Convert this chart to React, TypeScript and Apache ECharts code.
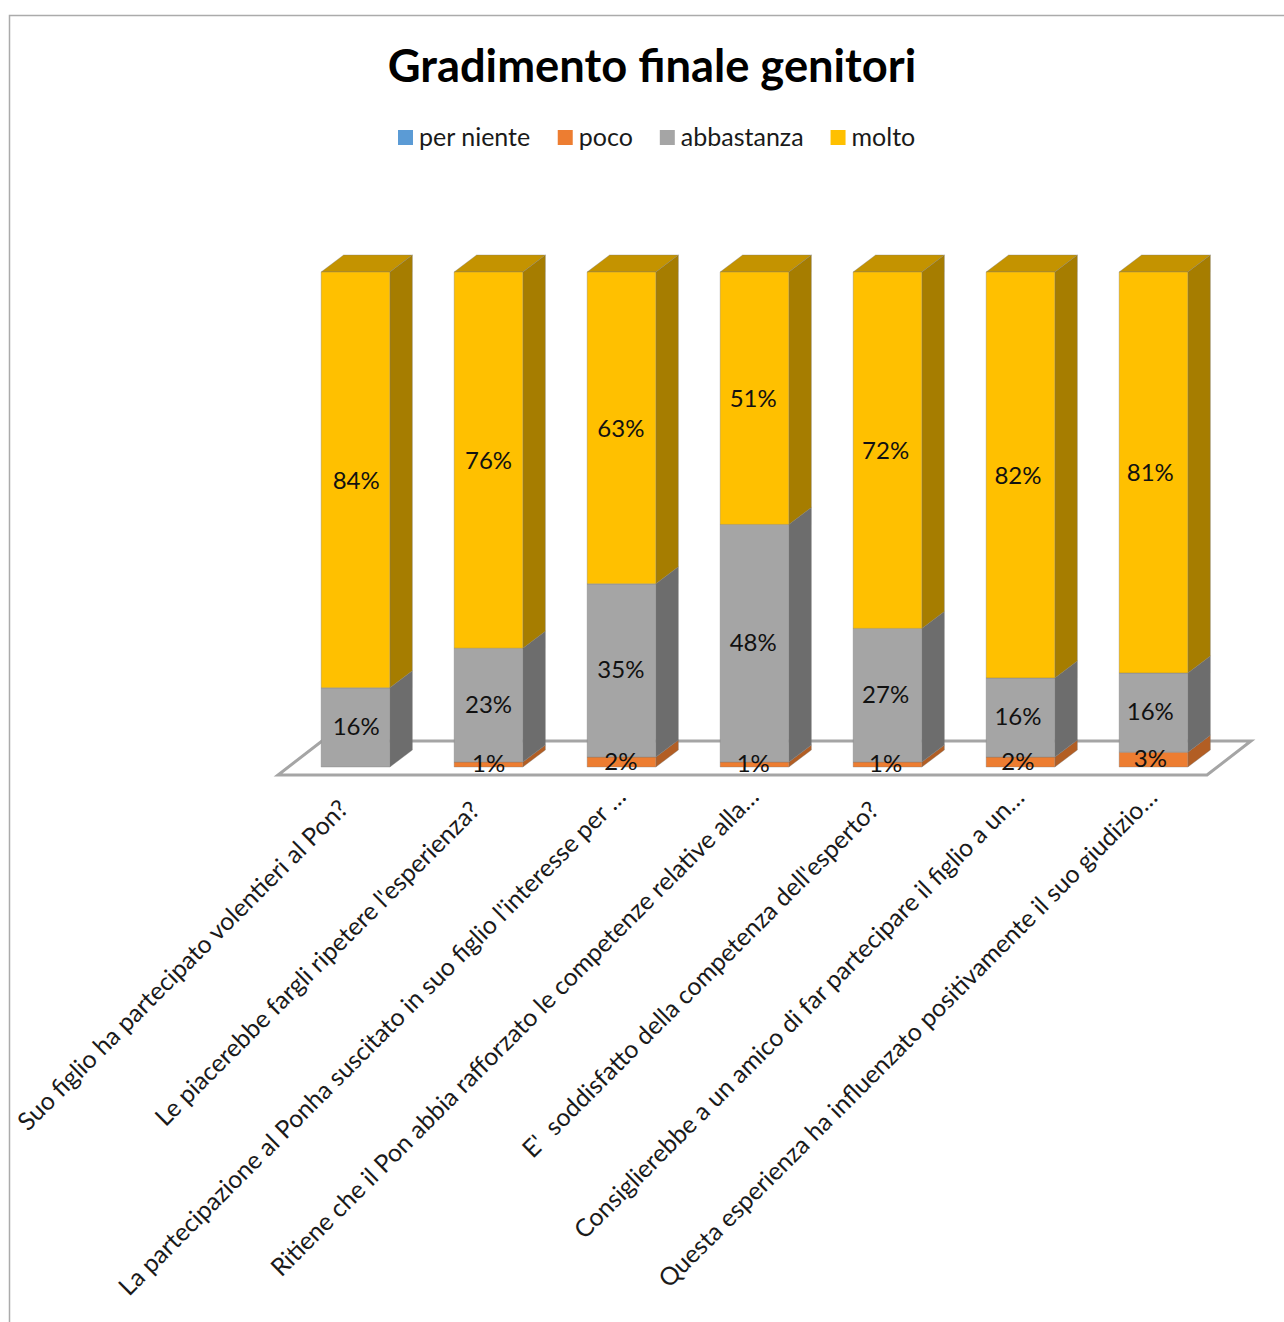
import React, { useEffect, useRef } from "react";
import * as echarts from "echarts";

const categories = [
  "Suo figlio ha partecipato volentieri al Pon?",
  "Le piacerebbe fargli ripetere l'esperienza?",
  "La partecipazione al Ponha suscitato in suo figlio l'interesse per …",
  "Ritiene che il Pon abbia rafforzato le competenze relative alla…",
  "E'  soddisfatto della competenza dell'esperto?",
  "Consiglierebbe a un amico di far partecipare il figlio a un…",
  "Questa esperienza ha influenzato positivamente il suo giudizio…",
];
const perNiente = [0, 0, 0, 0, 0, 0, 0];
const poco = [0, 1, 2, 1, 1, 2, 3];
const abbastanza = [16, 23, 35, 48, 27, 16, 16];
const molto = [84, 76, 63, 51, 72, 82, 81];

const seriesDefs = [
  { name: "per niente", values: perNiente, front: "#5B9BD5", side: "#3F74A6", top: "#4A86BE", labelLift: 2 },
  { name: "poco", values: poco, front: "#ED7D31", side: "#B25E24", top: "#C96A2A", labelLift: 2 },
  { name: "abbastanza", values: abbastanza, front: "#A5A5A5", side: "#6D6D6D", top: "#8C8C8C", labelLift: 2 },
  { name: "molto", values: molto, front: "#FFC000", side: "#A67D00", top: "#C49300", labelLift: 0.5 },
];

const labelEndPads = [18, 20, 1, 1, 20, 2, 2];

const FONT = "Lato, 'Open Sans', sans-serif";
const DX = 22.5;
const DY = -17;
const EDGE = "rgba(120,120,120,0.35)";

export default function App() {
  const ref = useRef<HTMLDivElement>(null);
  useEffect(() => {
    const chart = echarts.init(ref.current!, undefined, { renderer: "svg" });
    const base = categories.map(() => 0);
    const stacked = seriesDefs.map((def, si) => {
      const data = def.values.map((v, i) => {
        const start = base[i];
        base[i] += v;
        return [i, start, base[i], v];
      });
      return {
        type: "custom",
        name: def.name,
        itemStyle: { color: def.front },
        data,
        encode: { x: 0, y: 2 },
        clip: false,
        renderItem: (_p: any, api: any) => {
          const v = api.value(3);
          if (!v) return null;
          const idx = api.value(0);
          const b = api.coord([idx, api.value(1)]);
          const t = api.coord([idx, api.value(2)]);
          const w = api.size([1, 0])[0] * 0.5165;
          const x = b[0] - w / 2;
          const children: any[] = [
            {
              type: "polygon",
              shape: { points: [[x + w, t[1]], [x + w + DX, t[1] + DY], [x + w + DX, b[1] + DY], [x + w, b[1]]] },
              style: { fill: def.side, stroke: EDGE, lineWidth: 1 },
            },
          ];
          if (si === seriesDefs.length - 1) {
            children.push({
              type: "polygon",
              shape: { points: [[x, t[1]], [x + DX, t[1] + DY], [x + w + DX, t[1] + DY], [x + w, t[1]]] },
              style: { fill: def.top, stroke: EDGE, lineWidth: 1 },
            });
          }
          children.push({
            type: "rect",
            shape: { x, y: t[1], width: w, height: b[1] - t[1] },
            style: { fill: def.front, stroke: EDGE, lineWidth: 1 },
          });
          children.push({
            type: "text",
            z2: 100,
            style: {
              x: b[0] + 0.7 - idx * 0.65,
              y: (b[1] + t[1]) / 2 - def.labelLift,
              text: v + "%",
              fill: "#111111",
              font: `24px ${FONT}`,
              align: "center",
              verticalAlign: "middle",
            },
          });
          return { type: "group", children };
        },
      };
    });

    chart.setOption({
      animation: false,
      backgroundColor: "#ffffff",
      title: {
        text: "Gradimento finale genitori",
        left: 647,
        top: 37,
        textAlign: "center",
        textStyle: { fontFamily: FONT, fontSize: 45.3, fontWeight: "bold", color: "#000000" },
      },
      legend: {
        left: 393,
        top: 118,
        icon: "rect",
        itemWidth: 15,
        itemHeight: 15,
        itemGap: 27,
        data: seriesDefs.map((d) => d.name),
        formatter: "{a|{name}}",
        textStyle: {
          fontFamily: FONT,
          fontSize: 25,
          color: "#1a1a1a",
          rich: {
            a: { fontFamily: FONT, fontSize: 25, color: "#1a1a1a", padding: [0, 0, 4, 1] },
          },
        },
      },
      grid: { left: 289, right: 64, top: 272, bottom: 555 },
      xAxis: {
        type: "category",
        data: categories.map((value, i) => ({
          value,
          textStyle: { padding: [0, labelEndPads[i], 0, 0] },
        })),
        axisLine: { show: false },
        axisTick: { show: false },
        axisLabel: {
          interval: 0,
          rotate: 45,
          margin: 24,
          fontFamily: FONT,
          fontSize: 24.8,
          color: "#1a1a1a",
          hideOverlap: false,
        },
      },
      yAxis: { type: "value", min: 0, max: 100, show: false, splitLine: { show: false } },
      graphic: [
        {
          type: "polyline",
          shape: { points: [[9.5, 1322], [9.5, 15.5], [1284, 15.5]] },
          style: { fill: "none", stroke: "#ABABAB", lineWidth: 1.5 },
        },
      ],
      series: [
        {
          type: "custom",
          name: "floor",
          silent: true,
          data: [[0, 0]],
          encode: { x: 0, y: 1 },
          clip: false,
          z: 1,
          renderItem: (p: any, api: any) => {
            const cs = p.coordSys;
            const z = api.coord([0, 0])[1];
            const l = cs.x - 11;
            const r = cs.x + cs.width - 13;
            const y = z + 8;
            return {
              type: "polygon",
              shape: { points: [[l, y], [r, y], [r + 44, y - 34], [l + 44, y - 34]] },
              style: { fill: "#ffffff", stroke: "#A5A5A5", lineWidth: 3 },
            };
          },
        },
        ...stacked,
      ],
    });
    return () => chart.dispose();
  }, []);
  return <div ref={ref} style={{ position: "absolute", left: 0, top: 0, width: 1284, height: 1322 }} />;
}
